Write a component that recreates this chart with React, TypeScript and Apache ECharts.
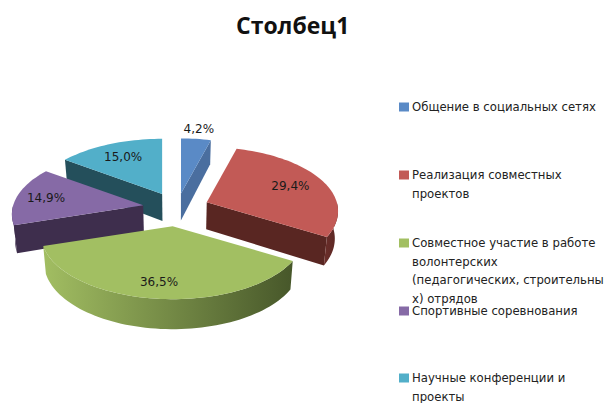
import React, { useEffect, useRef } from "react";
import * as echarts from "echarts";

const title = "Столбец1";
const categories = [
  "Общение в социальных сетях",
  "Реализация совместных\nпроектов",
  "Совместное участие в работе\nволонтерских\n(педагогических, строительны\nх) отрядов",
  "Спортивные соревнования",
  "Научные конференции и\nпроекты",
];
const values = [4.2, 29.4, 36.5, 14.9, 15.0];
const topColors = ["#5A8AC6", "#C25A56", "#A2BF62", "#866AA6", "#52AFC9"];
const sideColors = ["#4A6E9F", "#592622", "#4A5A2C", "#3E2E4D", "#244F5B"];
const wallLight = ["#5A8AC6", "#6B2E2A", "#A2BE62", "#3E2E4D", "#244F5B"];
const wallDark = ["#4A6E9F", "#5A2623", "#47572A", "#3E2E4D", "#244F5B"];
const explode = [0.24, 0.25, 0.28, 0.265, 0.26];
const labelRadius = [1.22, 0.72, 0.8, 0.77, 0.72];
const legendFirstLine = [107, 175, 243, 311, 378];

const CX = 177, CY = 208, RX = 130, RY = 62.8, K = 0.14;
const FONT = '"DejaVu Sans", sans-serif';
const LINE = 18.5;
const rad = (d: number) => (d * Math.PI) / 180;

function disc(theta: number, r: number) {
  const s = Math.sin(rad(theta)), c = Math.cos(rad(theta));
  const w = 1 + K * c * r;
  return [(RX * s * r) / w, (-RY * c * r) / w];
}
const depth = (theta: number, r: number) => 27 - 3 * Math.cos(rad(theta)) * r;

function renderSlice(index: number) {
  return (_p: any, api: any) => {
    const start = api.value(0), end = api.value(1), value = api.value(2);
    const mid = (start + end) / 2;
    const off = disc(mid, explode[index]);
    const ax = CX + off[0], ay = CY + off[1];
    const top = (t: number, r = 1) => {
      const d = disc(t, r);
      return [ax + d[0], ay + d[1]];
    };
    const bot = (t: number, r = 1) => {
      const p = top(t, r);
      return [CX + (p[0] - CX) * 0.98, p[1] + depth(t, r)];
    };
    const arc = (f: (t: number) => number[], a: number, b: number) => {
      const out: number[][] = [];
      const n = Math.max(2, Math.ceil(Math.abs(b - a) / 2));
      for (let i = 0; i <= n; i++) out.push(f(a + ((b - a) * i) / n));
      return out;
    };
    const children: any[] = [];
    const cut = (t: number) => ({
      type: "polygon",
      shape: { points: [top(t, 0), top(t), bot(t), bot(t, 0)] },
      style: { fill: sideColors[index] },
    });
    if (Math.sin(rad(start)) < -1e-6) children.push(cut(start));
    if (Math.sin(rad(end)) > 1e-6) children.push(cut(end));
    const wa = Math.max(start, 90), wb = Math.min(end, 270);
    if (wb > wa) {
      children.push({
        type: "polygon",
        shape: { points: [...arc(top, wa, wb), ...arc(bot, wb, wa)] },
        style: {
          fill: new echarts.graphic.LinearGradient(0, 0, 1, 0, [
            { offset: 0, color: wallLight[index] },
            { offset: 1, color: wallDark[index] },
          ]),
        },
      });
    }
    children.push({
      type: "polygon",
      shape: { points: [top(start, 0), ...arc(top, start, end)] },
      style: { fill: topColors[index] },
    });
    const l = top(mid, labelRadius[index]);
    children.push({
      type: "text",
      z2: 10,
      style: {
        text: value.toFixed(1).replace(".", ",") + "%",
        x: l[0],
        y: l[1],
        align: "center",
        verticalAlign: "middle",
        fill: "#1a1a1a",
        font: `12px ${FONT}`,
      },
    });
    return { type: "group", children };
  };
}

export default function App() {
  const ref = useRef<HTMLDivElement>(null);
  useEffect(() => {
    const chart = echarts.init(ref.current!, null, { renderer: "svg" });
    const total = values.reduce((a, b) => a + b, 0);
    let acc = 0;
    const series = values.map((v, i) => {
      const start = (acc / total) * 360;
      acc += v;
      const end = (acc / total) * 360;
      const cosMid = Math.cos(rad((start + end) / 2));
      return {
        type: "custom",
        name: categories[i],
        coordinateSystem: "none",
        silent: true,
        z: 2 + Math.round((1 - cosMid) * 10),
        itemStyle: { color: topColors[i] },
        renderItem: renderSlice(i),
        data: [[start, end, v]],
      };
    });
    const legendGraphics: any[] = [];
    categories.forEach((c, i) => {
      legendGraphics.push({
        type: "rect",
        silent: true,
        shape: { x: 399, y: legendFirstLine[i] - 4.5, width: 10, height: 9 },
        style: { fill: topColors[i] },
      });
      legendGraphics.push({
        type: "text",
        silent: true,
        style: {
          text: c,
          x: 412,
          y: legendFirstLine[i] - LINE / 2,
          align: "left",
          verticalAlign: "top",
          fill: "#222",
          font: `11.7px ${FONT}`,
          lineHeight: LINE,
        },
      });
    });
    chart.setOption({
      animation: false,
      backgroundColor: "#ffffff",
      title: {
        text: title,
        left: 236,
        top: 13,
        padding: 0,
        textStyle: { fontFamily: '"Open Sans", sans-serif', fontSize: 23, fontWeight: "bold", color: "#111" },
      },
      graphic: legendGraphics,
      series,
    });
    return () => chart.dispose();
  }, []);
  return <div ref={ref} style={{ position: "fixed", left: 0, top: 0, width: 606, height: 403 }} />;
}
